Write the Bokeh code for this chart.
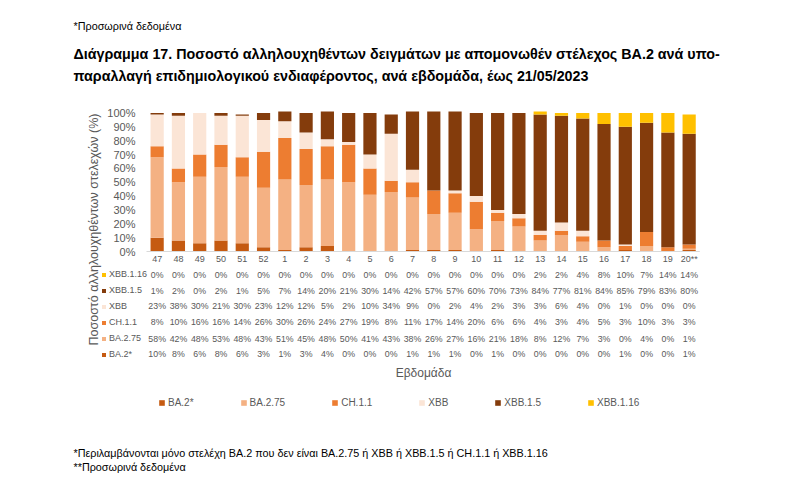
import math
from bokeh.plotting import figure
from bokeh.models import (Range1d, ColumnDataSource, Legend, LegendItem,
                          Label, FixedTicker, PrintfTickFormatter)
from bokeh.core.properties import value
from bokeh.embed import file_html
from bokeh.resources import INLINE

# ---------------- data ----------------
weeks = ["47", "48", "49", "50", "51", "52"] + [str(i) for i in range(1, 20)] + ["20**"]
series = ["BA.2*", "BA.2.75", "CH.1.1", "XBB", "XBB.1.5", "XBB.1.16"]
colors = ["#C55A11", "#F4B183", "#ED7D31", "#FBE5D6", "#843C0C", "#FFC000"]

ba2 = [10, 8, 6, 8, 6, 3, 1, 3, 4, 0, 0, 0, 1, 1, 1, 0, 1, 0, 0, 0, 0, 0, 1, 0, 0, 1]
ba275 = [58, 42, 48, 53, 48, 43, 51, 45, 48, 50, 41, 43, 38, 26, 27, 16, 21, 18, 8, 12, 7, 3, 0, 4, 0, 1]
ch11 = [8, 10, 16, 16, 14, 26, 30, 26, 24, 27, 19, 8, 11, 17, 14, 20, 6, 6, 4, 3, 4, 5, 3, 10, 3, 3]
xbb = [23, 38, 30, 21, 30, 23, 12, 12, 5, 2, 10, 34, 9, 0, 2, 4, 2, 3, 3, 6, 4, 0, 1, 0, 0, 0]
xbb15 = [1, 2, 0, 2, 1, 5, 7, 14, 20, 21, 30, 14, 42, 57, 57, 60, 70, 73, 84, 77, 81, 84, 85, 79, 83, 80]
xbb116 = [0, 0, 0, 0, 0, 0, 0, 0, 0, 0, 0, 0, 0, 0, 0, 0, 0, 0, 2, 2, 4, 8, 10, 7, 14, 14]
values = [ba2, ba275, ch11, xbb, xbb15, xbb116]

y_ticks = [0, 10, 20, 30, 40, 50, 60, 70, 80, 90, 100]

note_top = "*Προσωρινά δεδομένα"
title1 = "Διάγραμμα 17. Ποσοστό αλληλουχηθέντων δειγμάτων με απομονωθέν στέλεχος BA.2 ανά υπο-"
title2 = "παραλλαγή επιδημιολογικού ενδιαφέροντος, ανά εβδομάδα, έως 21/05/2023"
y_title = "Ποσοστό αλληλουχηθέντων στελεχών (%)"
x_title = "Εβδομάδα"
foot1 = "*Περιλαμβάνονται μόνο στελέχη BA.2 που δεν είναι BA.2.75 ή XBB ή XBB.1.5 ή CH.1.1 ή XBB.1.16"
foot2 = "**Προσωρινά δεδομένα"

# ---------------- layout ----------------
FONT = "Liberation Sans"
GREY = "#595959"
W, H = 786, 480
FL, FR, FT, FB = 60, W, 0, H          # frame edges in page px
X0, DX = 156.65, 21.28                # page x of first category centre, category pitch
PX_PER_PCT = 1.385
ZERO_Y = 251

def dy(page_y):
    return -(page_y - ZERO_Y) / PX_PER_PCT

def sx(page_x):
    return page_x - FL

def sy(page_y):
    return FB - page_y

p = figure(width=W, height=H, output_backend="svg", toolbar_location=None,
           x_range=Range1d((FL - X0) / DX, (FR - X0) / DX),
           y_range=Range1d(dy(FB), dy(FT)),
           min_border_left=FL, min_border_right=0,
           min_border_top=0, min_border_bottom=0)
p.outline_line_color = None
p.background_fill_color = "white"
p.border_fill_color = "white"
p.grid.visible = False
p.xaxis.visible = False

idx = list(range(len(weeks)))
src = ColumnDataSource({"x": idx, "week": weeks, **{f"s{i}": v for i, v in enumerate(values)}})
stackers = [f"s{i}" for i in range(len(series))]
rends = p.vbar_stack(stackers, x="x", width=0.62, color=colors, source=src, line_width=0)

# category axis baseline
p.segment(x0=[idx[0] - 0.5], x1=[idx[-1] + 0.5], y0=[0], y1=[0], line_color="#d9d9d9", line_width=1)

# y axis (labels pulled inward with a negative standoff)
ya = p.yaxis[0]
ya.ticker = FixedTicker(ticks=y_ticks)
ya.formatter = PrintfTickFormatter(format="%d%%")
ya.axis_line_color = None
ya.major_tick_line_color = None
ya.minor_tick_line_color = None
ya.major_tick_in = 0
ya.major_tick_out = 0
ya.major_label_text_font = FONT
ya.major_label_text_font_size = "11px"
ya.major_label_text_color = GREY
ya.major_label_standoff = -75

# week labels
wsrc = ColumnDataSource({"x": idx, "week": weeks, "y": [dy(258)] * len(weeks)})
p.text(x="x", y="y", text="week", source=wsrc, text_font_size="9px",
       text_color=GREY, text_align="center", text_baseline="middle", text_font=value(FONT))

# data table rows (top row = last series)
row_page_y = [353.7, 338.0, 321.7, 305.7, 290.0, 274.3]
tx, ty, tt = [], [], []
for i, vals in enumerate(values):
    for k, v in zip(idx, vals):
        tx.append(k)
        ty.append(dy(row_page_y[i]))
        tt.append(f"{v}%")
tsrc = ColumnDataSource({"x": tx, "y": ty, "t": tt})
p.text(x="x", y="y", text="t", source=tsrc, text_font_size="8.8px", text_color=GREY,
       text_align="center", text_baseline="middle", text_font=value(FONT))

# table row legend (left)
left_items = [LegendItem(label=series[i], renderers=[rends[i]]) for i in reversed(range(len(series)))]
leg_left = Legend(items=left_items, location=(sx(101), sy(362.3)), orientation="vertical",
                  glyph_width=5, glyph_height=5, label_height=16, spacing=0, padding=0, margin=0,
                  label_standoff=3, label_text_font=FONT, label_text_font_size="9px",
                  label_text_color=GREY, border_line_color=None, background_fill_alpha=0)
p.add_layout(leg_left)

# bottom legend
bot_items = [LegendItem(label=series[i], renderers=[rends[i]]) for i in range(len(series))]
leg_bot = Legend(items=bot_items, location=(sx(158), sy(409)), orientation="horizontal",
                 glyph_width=7, glyph_height=7, label_height=14, spacing=46, padding=0, margin=0,
                 label_standoff=3, label_text_font=FONT, label_text_font_size="10px",
                 label_text_color=GREY, border_line_color=None, background_fill_alpha=0)
p.add_layout(leg_bot)

def add_label(text, page_x, page_y, size, bold=False, color="#000000", align="left", angle=0.0):
    p.add_layout(Label(x=sx(page_x), y=sy(page_y), x_units="screen", y_units="screen",
                       text=text, text_font=FONT, text_font_size=size, angle=angle,
                       text_font_style="bold" if bold else "normal",
                       text_color=color, text_align=align, text_baseline="middle"))

add_label(note_top, 73, 25, "10.8px")
add_label(title1, 73, 53, "14.3px", bold=True)
add_label(title2, 73, 75, "14.3px", bold=True)
add_label(y_title, 93, 229, "12.5px", color=GREY, align="center", angle=math.pi / 2)
add_label(x_title, 423, 372, "12px", color=GREY, align="center")
add_label(foot1, 73, 452, "10.8px")
add_label(foot2, 73, 466, "10.8px")

open("out.html", "w").write(file_html(p, INLINE))
